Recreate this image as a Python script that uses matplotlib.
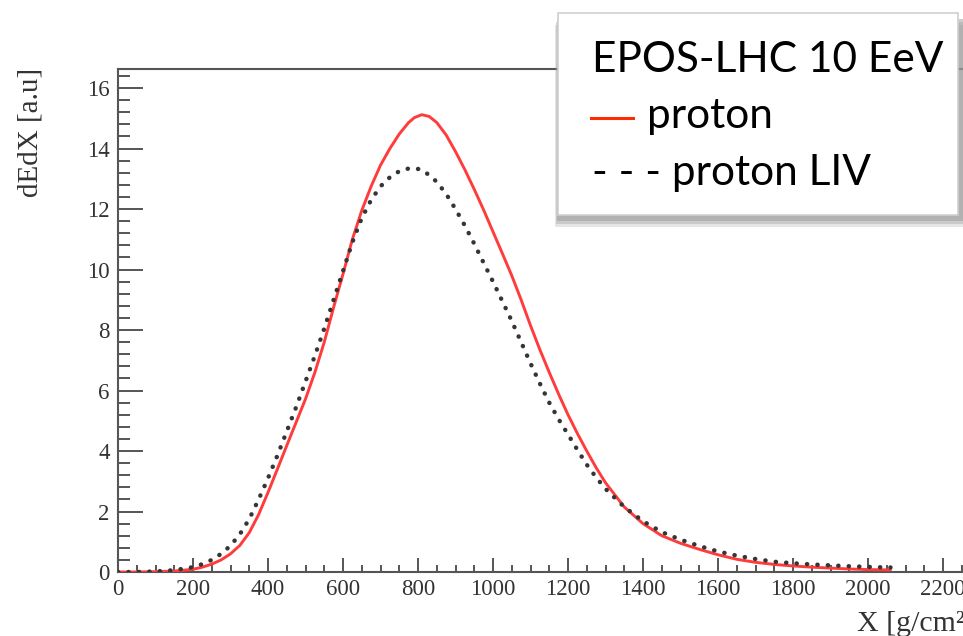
import matplotlib
matplotlib.use("Agg")
import matplotlib.pyplot as plt
from matplotlib.patches import Rectangle
from matplotlib.ticker import MultipleLocator

# Longitudinal energy-deposit profiles, depth X in g/cm^2
depth = [0, 50, 100, 150, 200, 225, 250, 275, 300, 325, 350, 375, 400, 425,
         450, 475, 500, 525, 550, 575, 600, 625, 650, 675, 700, 725, 750,
         775, 790, 810, 830, 850, 875, 900, 925, 950, 975, 1000, 1025, 1050,
         1075, 1100, 1125, 1150, 1175, 1200, 1225, 1250, 1275, 1300, 1350,
         1400, 1450, 1500, 1550, 1600, 1650, 1700, 1750, 1800, 1850,
         1900, 1950, 2000, 2050, 2060]

proton = [0.0, 0.0, 0.01, 0.03, 0.09, 0.16, 0.26, 0.4, 0.6, 0.88, 1.3, 1.9, 2.63, 3.4,
          4.18, 4.95, 5.72, 6.6, 7.6, 8.75, 9.85, 11.0, 11.95, 12.75, 13.45, 14.0, 14.48,
          14.86, 15.02, 15.12, 15.06, 14.86, 14.45, 13.9, 13.3, 12.65, 11.97, 11.25, 10.53, 9.8,
          9.0, 8.15, 7.35, 6.6, 5.88, 5.2, 4.58, 4.0, 3.45, 2.95, 2.15,
          1.6, 1.2, 0.95, 0.75, 0.57, 0.42, 0.32, 0.25, 0.2, 0.16,
          0.13, 0.1, 0.08, 0.07, 0.07]

proton_liv = [0.0, 0.0, 0.02, 0.06, 0.16, 0.26, 0.4, 0.6, 0.87, 1.25, 1.75, 2.4, 3.1, 3.85,
              4.65, 5.45, 6.3, 7.15, 8.05, 9.0, 9.95, 10.9, 11.7, 12.3, 12.75, 13.05, 13.25,
              13.34, 13.35, 13.3, 13.12, 12.9, 12.5, 12.0, 11.45, 10.85, 10.22, 9.6, 8.95, 8.3,
              7.6, 6.9, 6.23, 5.6, 5.05, 4.55, 4.04, 3.55, 3.13, 2.75, 2.15,
              1.68, 1.32, 1.07, 0.86, 0.68, 0.54, 0.43, 0.34, 0.29, 0.25,
              0.22, 0.19, 0.17, 0.15, 0.15]

legend_title = "EPOS-LHC 10 EeV"
legend_labels = ["proton", "- - - proton LIV"]

W, H, DPI = 963, 636, 100
fig = plt.figure(figsize=(W / DPI, H / DPI), dpi=DPI)

def px(v):
    return v / W

def py(v):
    return 1 - v / H

x0_px, y0_px, ytop_px = 118, 572, 69
xscale = 0.375          # pixels per g/cm^2
xmax = 2300
ymax = 16.63
ax = fig.add_axes([px(x0_px), py(y0_px), (xmax * xscale) / W, (y0_px - ytop_px) / H])
ax.set_xlim(0, xmax)
ax.set_ylim(0, ymax)

ax.plot(depth, proton, color="#ff3b3b", lw=2.1, solid_capstyle="round",
        solid_joinstyle="round", zorder=3)
ax.plot(depth, proton_liv, color="#353535", lw=3.2,
        linestyle=(0, (0.05, 2.3)), dash_capstyle="round", zorder=4)

frame_col = "#555555"
for s in ("left", "bottom", "top", "right"):
    ax.spines[s].set_color(frame_col)
    ax.spines[s].set_linewidth(1.5)

ax.xaxis.set_major_locator(MultipleLocator(200))
ax.xaxis.set_minor_locator(MultipleLocator(50))
ax.yaxis.set_major_locator(MultipleLocator(2))
ax.yaxis.set_minor_locator(MultipleLocator(0.4))

ax.tick_params(axis="y", which="major", direction="in", length=18, width=1.4,
               color=frame_col, pad=6)
ax.tick_params(axis="y", which="minor", direction="in", length=8.5, width=1.4,
               color=frame_col)
ax.tick_params(axis="x", which="major", direction="in", length=10, width=1.4,
               color=frame_col, pad=5)
ax.tick_params(axis="x", which="minor", direction="in", length=5, width=1.4,
               color=frame_col)
ax.tick_params(top=False, right=False, which="both")

serif = "Liberation Serif"
for lab in ax.get_xticklabels() + ax.get_yticklabels():
    lab.set_fontfamily(serif)
    lab.set_fontsize(16.5)
    lab.set_color("#333333")

fig.text(px(31), py(132), "dEdX [a.u]", rotation=90, ha="center", va="center",
         fontfamily=serif, fontsize=21, color="#333333")
fig.text(px(857), py(631), "X [g/cm²]", ha="left", va="baseline",
         fontfamily=serif, fontsize=21.5, color="#333333")

# Legend panel with drop shadow
for dx, dy, a in [(-3, 12, 0.25), (-2, 9, 0.35), (-1, 6, 0.5)]:
    fig.patches.append(Rectangle((px(558 + dx), py(215 + dy)), px(410), (215 - 13) / H,
                                 transform=fig.transFigure, facecolor="#9a9a9a",
                                 edgecolor="none", alpha=a, zorder=5))
fig.patches.append(Rectangle((px(558), py(215)), px(400), (215 - 13) / H,
                             transform=fig.transFigure, facecolor="white",
                             edgecolor="#d0d0d0", linewidth=1.2, zorder=6))

sans = "Lato"
fs_leg = 30.5
fig.text(px(592), py(72), legend_title, ha="left", va="baseline",
         fontfamily=sans, fontsize=fs_leg, color="black", zorder=7)
fig.lines.append(plt.Line2D([px(591), px(633)], [py(118), py(118)],
                            transform=fig.transFigure, color="#ff2a00", lw=2.2, zorder=7))
fig.text(px(647), py(128), legend_labels[0], ha="left", va="baseline",
         fontfamily=sans, fontsize=fs_leg, color="black", zorder=7)
fig.text(px(592), py(185), legend_labels[1], ha="left", va="baseline",
         fontfamily=sans, fontsize=fs_leg, color="black", zorder=7)

fig.savefig("out.png", dpi=DPI)
